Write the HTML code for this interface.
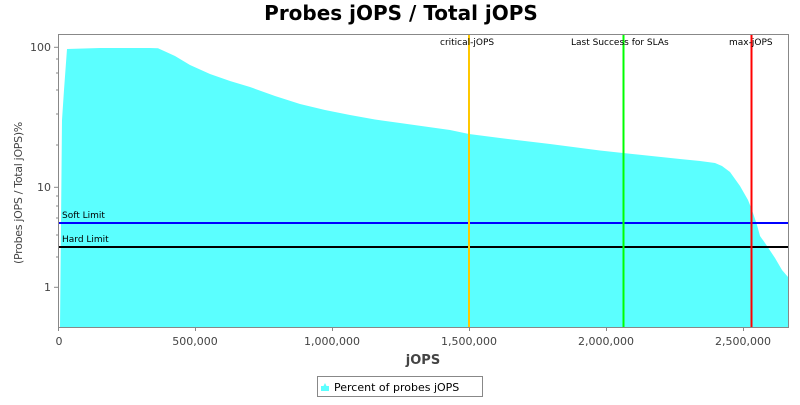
<!DOCTYPE html>
<html><head><meta charset="utf-8"><style>
body{margin:0;background:#fff;width:800px;height:400px;overflow:hidden}
svg{font-family:"DejaVu Sans","Liberation Sans",sans-serif}
</style></head><body>
<svg width="800" height="400" viewBox="0 0 800 400">
<rect width="800" height="400" fill="#fff"/>
<text x="401" y="20" text-anchor="middle" font-size="20" font-weight="bold">Probes jOPS / Total jOPS</text>
<polygon fill="#5bffff" points="58,327 60,327 62,120 64,90 67,49 100,48 150,48 158,48.3 175,56 190,65 210,74 230,81 250,87 275,96 300,104 325,110 350,115 375,119.5 400,123 450,130 469,134 500,138 550,144 600,150.5 623,153 680,159 700,161 715,163 722,166 730,172 740,186 748,200 752,210 757,225 760,236 765,243 775,258 782,270 788,277 788,327"/>
<line x1="58" y1="223" x2="788" y2="223" stroke="#0000ff" stroke-width="2"/>
<line x1="58" y1="247" x2="788" y2="247" stroke="#000" stroke-width="2"/>
<line x1="469" y1="35" x2="469" y2="327" stroke="#ffc800" stroke-width="2"/>
<line x1="623.5" y1="35" x2="623.5" y2="327" stroke="#00ff00" stroke-width="2"/>
<line x1="751.5" y1="35" x2="751.5" y2="327" stroke="#ff0000" stroke-width="2"/>
<g font-size="9" fill="#000">
<text x="62" y="218">Soft Limit</text>
<text x="62" y="242">Hard Limit</text>
<text x="440" y="45">critical-jOPS</text>
<text x="571" y="45">Last Success for SLAs</text>
<text x="729" y="45">max-jOPS</text>
</g>
<rect x="58.5" y="34.5" width="730" height="293" fill="none" stroke="#888"/>
<g stroke="#888">
<line x1="54" y1="47.3" x2="58" y2="47.3"/><line x1="54" y1="187.3" x2="58" y2="187.3"/><line x1="54" y1="287.3" x2="58" y2="287.3"/>
<line x1="56" y1="59" x2="58" y2="59"/><line x1="56" y1="73" x2="58" y2="73"/><line x1="56" y1="90" x2="58" y2="90"/><line x1="56" y1="114" x2="58" y2="114"/><line x1="56" y1="145" x2="58" y2="145"/>
<line x1="56" y1="196" x2="58" y2="196"/><line x1="56" y1="206" x2="58" y2="206"/><line x1="56" y1="218" x2="58" y2="218"/><line x1="56" y1="235" x2="58" y2="235"/><line x1="56" y1="257" x2="58" y2="257"/>
<line x1="58.5" y1="331" x2="58.5" y2="327"/><line x1="195.5" y1="331" x2="195.5" y2="327"/><line x1="332.5" y1="331" x2="332.5" y2="327"/><line x1="469.5" y1="331" x2="469.5" y2="327"/><line x1="606.5" y1="331" x2="606.5" y2="327"/><line x1="743.5" y1="331" x2="743.5" y2="327"/>
</g>
<g font-size="11" fill="#444" text-anchor="end">
<text x="51" y="51">100</text><text x="51" y="191">10</text><text x="51" y="291">1</text>
</g>
<g font-size="11" fill="#444" text-anchor="middle">
<text x="59" y="345">0</text><text x="195" y="345">500,000</text><text x="332" y="345">1,000,000</text><text x="469" y="345">1,500,000</text><text x="606" y="345">2,000,000</text><text x="743" y="345">2,500,000</text>
</g>
<text x="423" y="364" text-anchor="middle" font-size="13" font-weight="bold" fill="#444">jOPS</text>
<text transform="translate(22,193) rotate(-90)" text-anchor="middle" font-size="11" fill="#444" letter-spacing="-0.3">(Probes jOPS / Total jOPS)%</text>
<rect x="317.5" y="376.5" width="165" height="20" fill="#fff" stroke="#888"/>
<polygon points="321,391 325,383 329,391" fill="#5bffff"/>
<rect x="321" y="386" width="8" height="5" fill="#5bffff"/>
<text x="334" y="391" font-size="11" fill="#000">Percent of probes jOPS</text>
</svg>
</body></html>
